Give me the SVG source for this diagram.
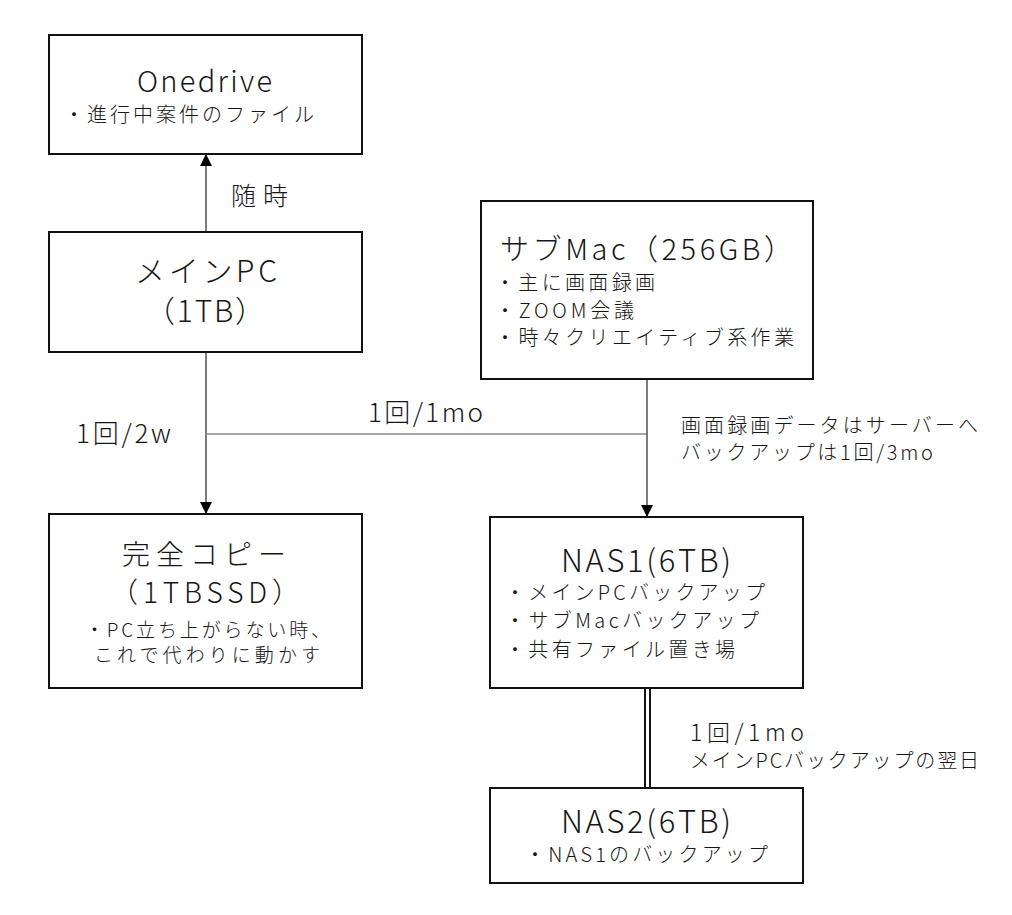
<svg xmlns="http://www.w3.org/2000/svg" width="1012" height="915" viewBox="0 0 1012 915">
<style>
text{font-family:"Noto Sans CJK JP","Noto Sans",sans-serif;font-weight:300;fill:#161616}
.box{fill:#fff;stroke:#111;stroke-width:2}
.t{font-size:30px}
.b{font-size:20px}
.l{font-size:26px}
.conn{stroke:#505050;stroke-width:1.5;fill:none}
.h{stroke:#8a8a8a;stroke-width:1.5;fill:none}
</style>
<defs>
<marker id="arr" markerUnits="userSpaceOnUse" markerWidth="12" markerHeight="12" refX="12" refY="6" orient="auto">
<path d="M0,0 L12,6 L0,12 z" fill="#000"/>
</marker>
</defs>
<rect width="1012" height="915" fill="#fff"/>
<g id="connectors">
<line class="conn" x1="206" y1="232" x2="206" y2="154" marker-end="url(#arr)"/>
<line class="conn" x1="206" y1="352" x2="206" y2="514" marker-end="url(#arr)"/>
<line class="h" x1="206" y1="434" x2="647" y2="434"/>
<line class="conn" x1="647" y1="380" x2="647" y2="517" marker-end="url(#arr)"/>
<line x1="647.5" y1="688" x2="647.5" y2="788" stroke="#111" stroke-width="7"/>
<line x1="647.5" y1="688" x2="647.5" y2="788" stroke="#fff" stroke-width="3"/>
<text x="231" y="205" textLength="57" lengthAdjust="spacing" style="font-size:25px">随時</text>
<text class="l" x="76" y="443" textLength="95" lengthAdjust="spacing">1回/2w</text>
<text class="l" x="368" y="422" textLength="115" lengthAdjust="spacing">1回/1mo</text>
<text class="b" x="681" y="433" textLength="297" lengthAdjust="spacing">画面録画データはサーバーへ</text>
<text class="b" x="681" y="460" textLength="252" lengthAdjust="spacing">バックアップは1回/3mo</text>
<text x="690" y="741" style="font-size:23px" textLength="114" lengthAdjust="spacing">1回/1mo</text>
<text class="b" x="690" y="768" textLength="289" lengthAdjust="spacing">メインPCバックアップの翌日</text>
</g>
<g id="onedrive">
<rect class="box" x="49" y="35" width="313" height="119"/>
<text x="137" y="92" style="font-size:29px" textLength="135" lengthAdjust="spacing">Onedrive</text>
<text class="b" x="64" y="122" textLength="250" lengthAdjust="spacing">・進行中案件のファイル</text>
</g>
<g id="mainpc">
<rect class="box" x="49" y="232" width="313" height="120"/>
<text class="t" x="135" y="282" textLength="142" lengthAdjust="spacing">メインPC</text>
<text class="t" x="145" y="322" textLength="120" lengthAdjust="spacing">（1TB）</text>
</g>
<g id="fullcopy">
<rect class="box" x="49" y="514" width="313" height="174"/>
<text x="122" y="565" style="font-size:28px" textLength="164" lengthAdjust="spacing">完全コピー</text>
<text x="110" y="603" style="font-size:28px" textLength="190" lengthAdjust="spacing">（1TBSSD）</text>
<text x="85" y="637" style="font-size:19px" textLength="245" lengthAdjust="spacing">・PC立ち上がらない時、</text>
<text x="94" y="662" style="font-size:19px" textLength="226" lengthAdjust="spacing">これで代わりに動かす</text>
</g>
<g id="submac">
<rect class="box" x="481" y="201" width="332" height="178"/>
<text x="500" y="260" style="font-size:29px" textLength="293" lengthAdjust="spacing">サブMac（256GB）</text>
<text class="b" x="495" y="290" textLength="160" lengthAdjust="spacing">・主に画面録画</text>
<text class="b" x="495" y="318" textLength="139" lengthAdjust="spacing">・ZOOM会議</text>
<text class="b" x="495" y="345" textLength="299" lengthAdjust="spacing">・時々クリエイティブ系作業</text>
</g>
<g id="nas1">
<rect class="box" x="490" y="517" width="313" height="171"/>
<text x="561" y="572" style="font-size:31px" textLength="170" lengthAdjust="spacing">NAS1(6TB)</text>
<text class="b" x="505" y="600" textLength="260" lengthAdjust="spacing">・メインPCバックアップ</text>
<text class="b" x="505" y="628" textLength="254" lengthAdjust="spacing">・サブMacバックアップ</text>
<text class="b" x="505" y="657" textLength="230" lengthAdjust="spacing">・共有ファイル置き場</text>
</g>
<g id="nas2">
<rect class="box" x="490" y="788" width="313" height="95"/>
<text x="561" y="833" style="font-size:31px" textLength="170" lengthAdjust="spacing">NAS2(6TB)</text>
<text class="b" x="525" y="862" textLength="243" lengthAdjust="spacing">・NAS1のバックアップ</text>
</g>
</svg>
